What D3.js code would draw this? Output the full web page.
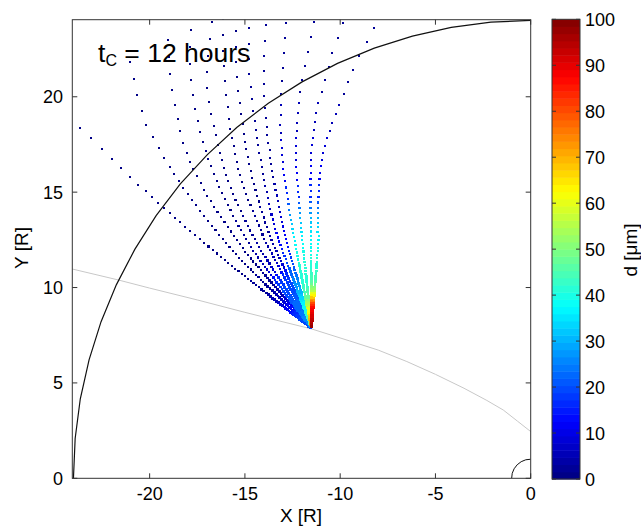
<!DOCTYPE html>
<html>
<head>
<meta charset="utf-8">
<script src="https://cdn.jsdelivr.net/npm/d3@7"></script>
<style>
  body { margin: 0; background: #fff; }
  text { font-family: Helvetica, Arial, "Liberation Sans", sans-serif; fill: #000; }
</style>
</head>
<body>
<svg id="chart" width="641" height="526"></svg>
<script>
// axis ticks
var xTicks = [-20, -15, -10, -5, 0];
var yTicks = [0, 5, 10, 15, 20];
var cbTicks = [0, 10, 20, 30, 40, 50, 60, 70, 80, 90, 100];

// outer boundary (black)
var boundary = [[-24, 0], [-23.91, 2.09], [-23.64, 4.17], [-23.18, 6.21], [-22.55, 8.21],
  [-21.75, 10.14], [-20.78, 12.0], [-19.66, 13.77], [-18.39, 15.43], [-16.97, 16.97],
  [-15.43, 18.39], [-13.77, 19.66], [-12.0, 20.78], [-10.14, 21.75], [-8.21, 22.55],
  [-6.21, 23.18], [-4.17, 23.64], [-2.09, 23.91], [0, 24]];
// small planet arc at the origin
var planet = [[-1, 0], [-0.97, 0.26], [-0.87, 0.5], [-0.71, 0.71], [-0.5, 0.87], [-0.26, 0.97], [0, 1]];
// grey orbit line
var orbit = [[-24.06, 10.97], [-21.66, 10.4], [-20, 9.97], [-17.5, 9.35], [-15, 8.7], [-13, 8.2],
  [-11.5, 7.83], [-9.5, 7.2], [-8, 6.72], [-6.5, 6.12], [-5, 5.45], [-3.5, 4.72], [-2.3, 4.08],
  [-1.44, 3.58], [-0.7, 3.0], [0, 2.45]];

// particle source
var source = [-11.5, 7.85];
// distance of each particle row from the source [R]
var rowDist = [16.9, 16.09, 15.28, 14.5, 13.75, 13.05, 12.42, 11.82, 11.3, 10.82, 10.4, 10.0,
  9.6, 9.22, 8.86, 8.51, 8.17, 7.84, 7.52, 7.21, 6.91, 6.62, 6.34, 6.07, 5.81, 5.56, 5.32, 5.09,
  4.87, 4.66, 4.45, 4.25, 4.06, 3.87, 3.69, 3.52, 3.35, 3.19, 3.03, 2.88, 2.73, 2.59, 2.45,
  2.32, 2.19, 2.07, 1.95, 1.83, 1.72, 1.61, 1.5, 1.4, 1.3, 1.2, 1.1, 1.0, 0.9, 0.8, 0.7, 0.6,
  0.5, 0.4, 0.3, 0.2, 0.1];
// direction of each trajectory close to the source (deg)
var nearAngle = [142, 136, 131, 127, 123, 118, 114.5, 110.5, 106, 101, 96, 90.5, 85.5];
// direction of each trajectory along the outer 28 rows (deg)
var ang0 = [138.9, 139.1, 139.3, 139.5, 139.7, 139.9, 140.1, 140.3, 140.4, 140.55, 140.6, 140.7, 140.8, 140.9, 141, 141.1, 141.2, 141.3, 141.35, 141.4, 141.5, 141.6, 141.65, 141.7, 141.8, 141.85, 141.9, 142];
var ang1 = [124.3, 125.5, 126.8, 128, 129.1, 129.7, 130.3, 130.9, 131.3, 131.7, 132.1, 132.4, 132.7, 133, 133.2, 133.5, 133.7, 134, 134.2, 134.4, 134.6, 134.8, 135, 135.2, 135.4, 135.6, 135.8, 135.9];
var ang2 = [116.5, 117.8, 119.1, 120.3, 121.5, 122.6, 123.7, 124.7, 125.5, 126.2, 126.6, 127, 127.4, 127.8, 128.1, 128.5, 128.7, 129, 129.2, 129.4, 129.6, 129.8, 130, 130.2, 130.4, 130.6, 130.8, 130.9];
var ang3 = [112, 113.3, 114.6, 115.8, 117, 117.9, 118.8, 119.6, 120.3, 120.9, 121.4, 121.8, 122.3, 122.7, 123.1, 123.5, 123.8, 124.2, 124.5, 124.8, 125.1, 125.4, 125.7, 125.9, 126.2, 126.4, 126.7, 126.9];
var ang4 = [108, 109.4, 110.8, 112.2, 113.5, 114.3, 115.1, 115.8, 116.4, 117, 117.6, 118.1, 118.6, 119.1, 119.5, 120, 120.3, 120.6, 120.8, 121.1, 121.4, 121.6, 121.9, 122.1, 122.3, 122.5, 122.7, 122.9];
var ang5 = [106, 106.8, 107.7, 108.5, 109.3, 110.1, 110.8, 111.5, 112.2, 112.7, 113.2, 113.7, 114.2, 114.6, 115.1, 115.5, 115.7, 116, 116.2, 116.4, 116.6, 116.8, 117, 117.2, 117.4, 117.6, 117.8, 117.9];
var ang6 = [103.5, 104.3, 105, 105.8, 106.5, 107.1, 107.7, 108.3, 108.7, 109.2, 109.6, 110, 110.4, 110.8, 111.1, 111.5, 111.8, 112.1, 112.3, 112.6, 112.9, 113.1, 113.4, 113.6, 113.8, 114, 114.2, 114.4];
var ang7 = [101, 101.7, 102.4, 103.1, 103.8, 104.2, 104.6, 105, 105.3, 105.6, 106, 106.3, 106.6, 106.9, 107.2, 107.5, 107.8, 108.1, 108.3, 108.6, 108.9, 109.1, 109.4, 109.6, 109.8, 110, 110.2, 110.4];
var ang8 = [98, 98.6, 99.3, 99.9, 100.5, 101, 101.5, 101.9, 102.3, 102.6, 102.9, 103.1, 103.3, 103.6, 103.8, 104, 104.2, 104.4, 104.6, 104.7, 104.9, 105.1, 105.2, 105.4, 105.5, 105.7, 105.8, 105.9];
var ang9 = [94.2, 94.7, 95.3, 95.8, 96.3, 96.9, 97.4, 97.9, 98.3, 98.7, 98.95, 99.2, 99.4, 99.7, 99.9, 100.1, 100.2, 100.3, 100.35, 100.4, 100.5, 100.55, 100.6, 100.7, 100.75, 100.8, 100.9, 101];
var ang10 = [89, 89.6, 90.2, 90.8, 91.4, 92.1, 92.7, 93.2, 93.7, 94.1, 94.3, 94.6, 94.8, 95, 95.2, 95.4, 95.45, 95.5, 95.55, 95.6, 95.65, 95.7, 95.75, 95.8, 95.85, 95.9, 95.95, 96];
var ang11 = [83.5, 84.2, 84.8, 85.7, 86.3, 86.9, 87.6, 88.3, 88.7, 89.1, 89.4, 89.7, 89.9, 90.1, 90.2, 90.3, 90.3, 90.4, 90.4, 90.4, 90.5, 90.5, 90.5, 90.5, 90.5, 90.5, 90.5, 90.5];
var ang12 = [77.4, 78.2, 79.1, 80.1, 80.8, 81.5, 82.2, 83, 83.6, 84.2, 84.8, 85.3, 85.8, 86.2, 86.6, 86.8, 86.9, 87, 87, 87, 87, 87, 86.9, 86.8, 86.7, 86.6, 86.5, 86.5];
var farAngle = [ang0, ang1, ang2, ang3, ang4, ang5, ang6, ang7, ang8, ang9, ang10, ang11, ang12];

// grain size d [um] per row, for five bundles of trajectories (left to right)
var sizeL = [1, 1, 1, 1, 1, 1, 1, 1, 1, 1, 1, 1, 1, 1, 1, 1, 1, 1, 1, 1, 1, 1, 1, 1, 1, 1, 1, 1,
  1, 1, 1, 1, 2, 2, 2, 2, 3, 3, 3, 4, 4, 5, 5, 6, 7, 8,
  9, 10, 11, 12, 13, 14, 15, 16, 17, 18, 18, 19, 19, 20, 20, 20, 20, 20, 20];
var sizeB = [1, 1, 1, 1, 1, 1, 1, 1, 1, 1, 1, 1, 1, 1, 1, 1, 1, 1, 1, 1, 2, 2, 2, 3, 3, 3, 4, 4,
  4, 4, 5, 5, 6, 7, 8, 9, 14, 16, 17, 18, 18, 19, 19, 20, 20, 20, 21, 21, 21, 22, 22, 22,
  23, 23, 23, 24, 24, 24, 25, 25, 25, 26, 26, 27, 28];
var sizeG = [2, 2, 2, 2, 2, 2, 2, 2, 2, 2, 2, 2, 2, 2, 2, 3, 3, 4, 4, 5, 5, 6, 7, 8, 9, 10, 11, 12,
  13, 14, 15, 16, 17, 18, 19, 20, 21, 22, 23, 24, 25, 26, 27, 28, 29, 30, 31, 32, 33, 34, 35,
  36, 37, 38, 39, 40, 41, 42, 43, 44, 45, 46, 47, 48, 50];
var sizeQ = [3, 3, 3, 3, 3, 3, 3, 5, 5, 5, 5, 8, 8, 8, 8, 12, 12, 12, 16, 16, 16, 21, 24, 27,
  30, 32, 34, 35, 36, 37, 38, 39, 40, 40, 40, 41, 41, 41, 42, 42, 42, 42, 42, 43, 43,
  44, 45, 46, 47, 48, 50, 52, 54, 56, 58, 60, 62, 64, 66, 68, 70, 72, 74, 76, 78];
var sizeR = [3, 3, 3, 3, 3, 3, 3, 5, 5, 5, 5, 8, 8, 8, 8, 12, 12, 12, 16, 16, 16, 21, 24, 27,
  30, 32, 34, 35, 36, 37, 38, 39, 40, 40, 41, 41, 42, 42, 43, 43, 44, 45, 46, 48, 50, 53, 56,
  60, 64, 68, 72, 76, 80, 83, 86, 88, 89, 90, 91, 92, 93, 94, 95, 96, 97];
var trajGroup = ["L", "L", "L", "B", "B", "B", "B", "G", "G", "Q", "Q", "R", "R"];

(function () {
  var svg = d3.select("#chart");
  var pL = 72.3, pR = 530.7, pT = 19.7, pB = 478.3;

  var x = d3.scaleLinear().domain([-24.06, 0]).range([pL, pR]);
  var y = d3.scaleLinear().domain([0, 24.04]).range([pB, pT]);

  // matlab style jet, 64 levels
  function jet(v) {
    var i = Math.min(63, Math.max(0, Math.floor(v * 64)));
    var t = (i + 0.5) / 64;
    function ch(a) { return Math.round(255 * Math.max(0, Math.min(1, 1.5 - Math.abs(4 * t - a)))); }
    return "rgb(" + ch(3) + "," + ch(2) + "," + ch(1) + ")";
  }

  // particle table (polar around the source -> x, y)
  var sizes = { L: sizeL, B: sizeB, G: sizeG, Q: sizeQ, R: sizeR };
  var particles = [];
  farAngle.forEach(function (angles, j) {
    rowDist.forEach(function (r, i) {
      var a = (i < angles.length ? angles[i] : nearAngle[j]) * Math.PI / 180;
      particles.push({
        x: source[0] + r * Math.cos(a),
        y: source[1] + r * Math.sin(a),
        r: r,
        d: sizes[trajGroup[j]][i]
      });
    });
  });
  particles.sort((a, b) => a.d - b.d);

  svg.append("defs").append("clipPath").attr("id", "clip")
    .append("rect").attr("x", pL).attr("y", pT)
    .attr("width", pR - pL).attr("height", pB - pT);

  var plot = svg.append("g").attr("clip-path", "url(#clip)");
  var line = d3.line().x((d) => x(d[0])).y((d) => y(d[1]));

  plot.append("path").attr("d", line(orbit))
    .attr("fill", "none").attr("stroke", "#c8c8c8").attr("stroke-width", 1);

  function dotSize(d) { return d.r > 8 ? 2 : d.r > 3.5 ? 2.2 : 2.8; }
  plot.append("g").attr("shape-rendering", "crispEdges")
    .selectAll("rect")
    .data(particles)
    .enter()
    .append("rect")
    .attr("x", (d) => x(d.x) - dotSize(d) / 2)
    .attr("y", (d) => y(d.y) - dotSize(d) / 2)
    .attr("width", dotSize)
    .attr("height", dotSize)
    .attr("fill", (d) => jet(d.d / 100));

  plot.append("path").attr("d", line(boundary))
    .attr("fill", "none").attr("stroke", "#111").attr("stroke-width", 1.2);
  plot.append("path").attr("d", line(planet))
    .attr("fill", "none").attr("stroke", "#111").attr("stroke-width", 1);

  // axes box with inward ticks on all sides
  var ax = svg.append("g").attr("stroke", "#333").attr("stroke-width", 1);
  ax.append("rect").attr("x", pL).attr("y", pT)
    .attr("width", pR - pL).attr("height", pB - pT).attr("fill", "none");
  xTicks.forEach(function (t) {
    ax.append("line").attr("x1", x(t)).attr("x2", x(t)).attr("y1", pB).attr("y2", pB - 5);
    ax.append("line").attr("x1", x(t)).attr("x2", x(t)).attr("y1", pT).attr("y2", pT + 5);
  });
  yTicks.forEach(function (t) {
    ax.append("line").attr("y1", y(t)).attr("y2", y(t)).attr("x1", pL).attr("x2", pL + 5);
    ax.append("line").attr("y1", y(t)).attr("y2", y(t)).attr("x1", pR).attr("x2", pR - 5);
  });

  svg.selectAll("text.xt").data(xTicks).enter().append("text")
    .attr("x", (d) => x(d)).attr("y", 500)
    .attr("text-anchor", "middle").attr("font-size", 18)
    .text((d) => d);
  svg.selectAll("text.yt").data(yTicks).enter().append("text")
    .attr("x", 63).attr("y", (d) => y(d) + 6.5)
    .attr("text-anchor", "end").attr("font-size", 18)
    .text((d) => d);

  svg.append("text").attr("x", 301).attr("y", 522)
    .attr("text-anchor", "middle").attr("font-size", 19).text("X [R]");
  svg.append("text").attr("transform", "translate(28,248) rotate(-90)")
    .attr("text-anchor", "middle").attr("font-size", 19).text("Y [R]");

  // title
  var title = svg.append("text").attr("x", 98).attr("y", 62).attr("font-size", 26.5);
  title.append("tspan").text("t");
  title.append("tspan").attr("font-size", 16).attr("dy", 4).text("C");
  title.append("tspan").attr("dy", -4).text(" = 12 hours");

  // colorbar
  var cbL = 552, cbR = 580;
  var c = d3.scaleLinear().domain([0, 100]).range([479, 19.3]);
  var cb = svg.append("g");
  cb.selectAll("rect").data(d3.range(64)).enter().append("rect")
    .attr("x", cbL).attr("width", cbR - cbL)
    .attr("y", (i) => c((i + 1) * 100 / 64))
    .attr("height", (i) => c(i * 100 / 64) - c((i + 1) * 100 / 64) + 0.5)
    .attr("fill", (i) => jet((i + 0.5) / 64));
  cb.append("rect").attr("x", cbL).attr("y", c(100))
    .attr("width", cbR - cbL).attr("height", c(0) - c(100))
    .attr("fill", "none").attr("stroke", "#333");
  cbTicks.forEach(function (t) {
    cb.append("line").attr("x1", cbL).attr("x2", cbL + 4)
      .attr("y1", c(t)).attr("y2", c(t)).attr("stroke", "#333");
    cb.append("line").attr("x1", cbR).attr("x2", cbR - 4)
      .attr("y1", c(t)).attr("y2", c(t)).attr("stroke", "#333");
  });
  cb.selectAll("text").data(cbTicks).enter().append("text")
    .attr("x", 585).attr("y", (d) => c(d) + 6.5)
    .attr("font-size", 18).text((d) => d);
  svg.append("text").attr("transform", "translate(637,250) rotate(-90)")
    .attr("text-anchor", "middle").attr("font-size", 19).text("d [μm]");
})();
</script>
</body>
</html>
